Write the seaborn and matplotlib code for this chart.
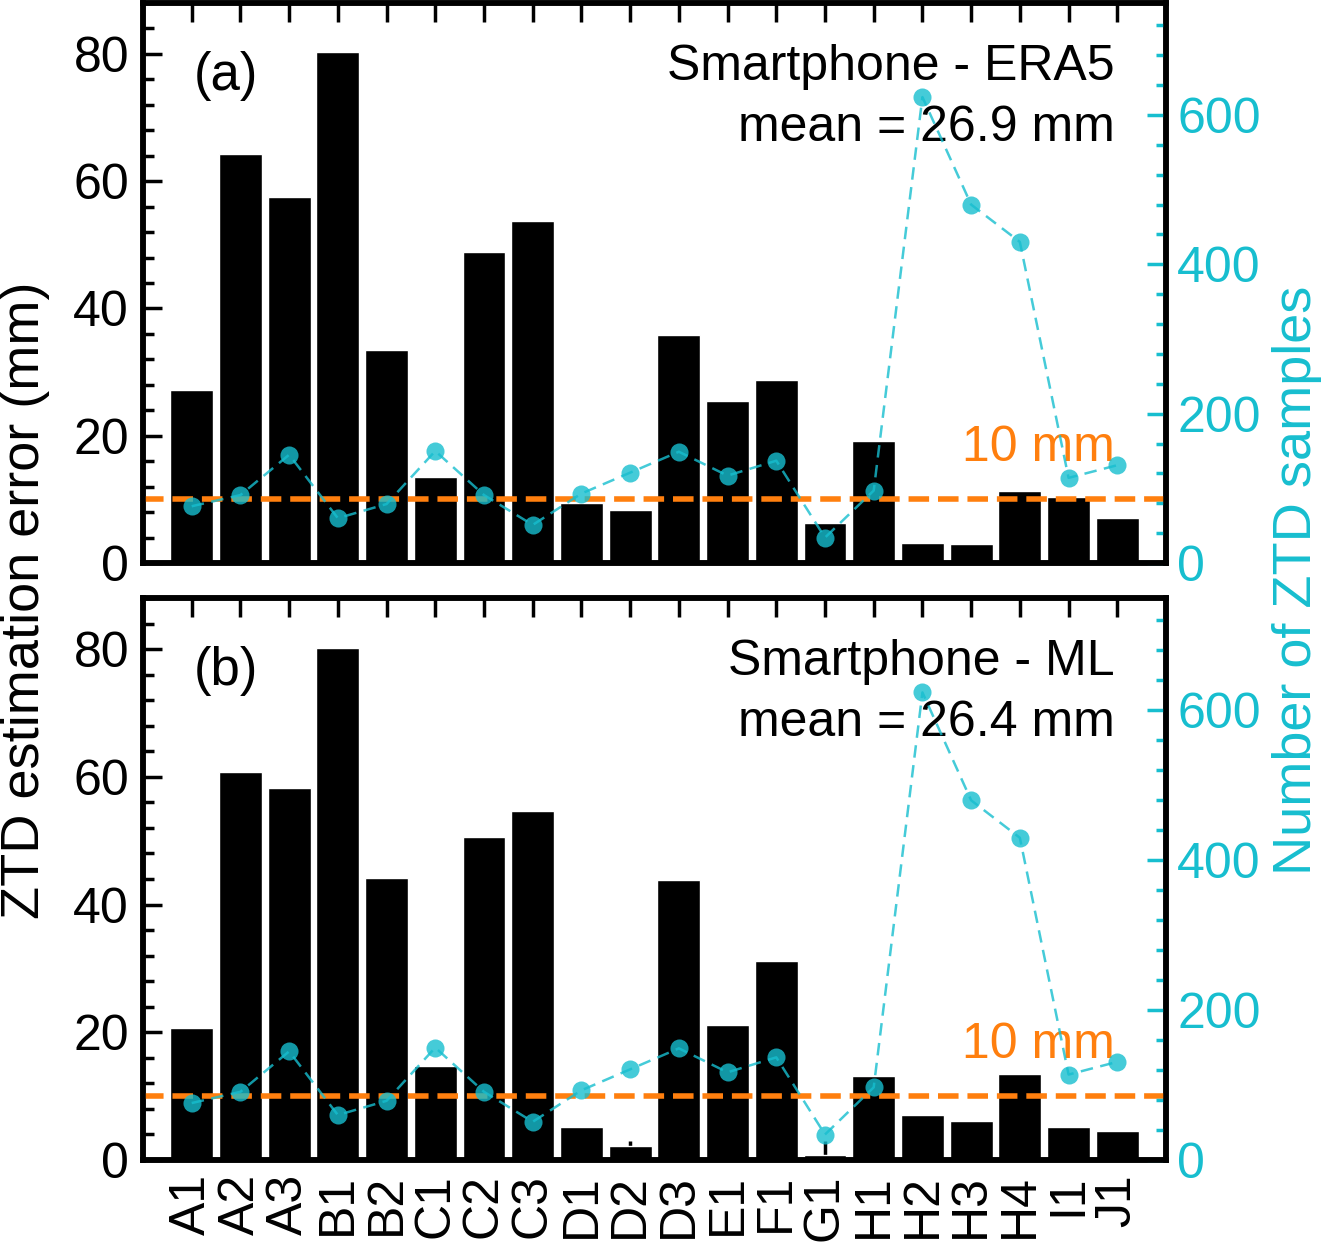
import numpy as np
import pandas as pd
import matplotlib
matplotlib.use("Agg")
import matplotlib.pyplot as plt
import matplotlib.transforms as mtransforms
from matplotlib.ticker import MultipleLocator
import seaborn as sns

# station names (x axis)
stations = ["A1", "A2", "A3", "B1", "B2", "C1", "C2", "C3", "D1", "D2",
            "D3", "E1", "F1", "G1", "H1", "H2", "H3", "H4", "I1", "J1"]

# ZTD estimation error (mm), panel (a): smartphone - ERA5
err_era5 = [27.2, 64.3, 57.5, 80.3, 33.5, 13.5, 48.8, 53.7, 9.4, 8.3,
            35.9, 25.4, 28.8, 6.3, 19.2, 3.1, 3.0, 11.3, 10.4, 7.1]
# ZTD estimation error (mm), panel (b): smartphone - ML
err_ml = [20.7, 60.7, 58.2, 80.2, 44.2, 14.7, 50.6, 54.6, 5.1, 2.2,
          43.9, 21.2, 31.1, 0.8, 13.2, 7.1, 6.1, 13.4, 5.2, 4.6]
# number of ZTD samples per station (right axis)
n_samples = [76, 91, 145, 60, 79, 150, 91, 51, 93, 121,
             149, 117, 137, 34, 97, 624, 480, 430, 114, 131]

panel_tags = ["(a)", "(b)"]
panel_titles = ["Smartphone - ERA5\nmean = 26.9 mm", "Smartphone - ML\nmean = 26.4 mm"]
threshold = 10

CYAN = "#17becf"
ORANGE = "#ff7f0e"

sns.set_style("ticks")
plt.rcParams["font.family"] = ["Liberation Sans", "DejaVu Sans"]
plt.rcParams["text.color"] = "black"
plt.rcParams["axes.labelcolor"] = "black"
plt.rcParams["xtick.color"] = "black"
plt.rcParams["ytick.color"] = "black"

W, H = 1328, 1243
fig = plt.figure(figsize=(W / 100, H / 100), dpi=100)

left, right = 143 / W, 1166 / W
boxes = [(3, 563), (598, 1160)]
TICK_FS = 36

for i, (err, tag, title) in enumerate(zip([err_era5, err_ml], panel_tags, panel_titles)):
    top_px, bot_px = boxes[i]
    ax = fig.add_axes([left, 1 - bot_px / H, right - left, (bot_px - top_px) / H])
    df = pd.DataFrame({"station": stations, "err": err, "n": n_samples, "pos": np.arange(len(stations))})

    sns.barplot(data=df, x="station", y="err", color="black", saturation=1,
                width=0.88, ax=ax, zorder=2)
    ax.axhline(threshold, color=ORANGE, lw=4, ls="--", zorder=3)
    ax.set_xlim(-1, len(stations))
    ax.set_ylim(0, 88)
    ax.set_xlabel("")
    ax.set_ylabel("")

    trans = mtransforms.blended_transform_factory(ax.transAxes, ax.transData)
    ax.text(0.95, 16, f"{threshold} mm", color=ORANGE, fontsize=36,
            ha="right", va="baseline", transform=trans)
    ax.text(0.05, 0.87, tag, fontsize=38, ha="left", va="center", transform=ax.transAxes)
    ax.text(0.95, 0.927, title, fontsize=36, ha="right", va="top",
            linespacing=1.42, transform=ax.transAxes)

    ax.yaxis.set_major_locator(MultipleLocator(20))
    ax.yaxis.set_minor_locator(MultipleLocator(4))
    ax.tick_params(axis="both", which="both", direction="in", top=True, right=False,
                   labelsize=TICK_FS, width=2.5)
    ax.tick_params(axis="both", which="major", length=13.5)
    ax.tick_params(axis="y", which="minor", length=8)
    ax.tick_params(axis="y", pad=10)
    ax.tick_params(axis="x", pad=10)
    ax.tick_params(axis="x", which="minor", bottom=False, top=False)
    if i == 0:
        ax.tick_params(axis="x", labelbottom=False)
    else:
        plt.setp(ax.get_xticklabels(), rotation=90)

    ax2 = ax.twinx()
    sns.lineplot(data=df, x="pos", y="n", ax=ax2, color=CYAN, lw=1.8,
                 marker="o", markersize=13, markeredgewidth=0, alpha=0.8,
                 dashes=False)
    ax2.lines[0].set_linestyle((0, (5, 3)))
    ax2.set_ylim(0, 750)
    ax2.set_xlim(-1, len(stations))
    ax2.set_ylabel("")
    ax2.yaxis.set_major_locator(MultipleLocator(200))
    ax2.yaxis.set_minor_locator(MultipleLocator(40))
    ax2.tick_params(axis="y", which="both", direction="in", color=CYAN,
                    labelcolor=CYAN, labelsize=TICK_FS, width=2.5, pad=8)
    ax2.tick_params(axis="y", which="major", length=13.5)
    ax2.tick_params(axis="y", which="minor", length=7)

    for a in (ax, ax2):
        for sp in a.spines.values():
            sp.set_linewidth(4)
            sp.set_color("black")
            sp.set_visible(True)

fig.text(0.019, 1 - 600 / H, "ZTD estimation error (mm)", rotation=90,
         fontsize=39, ha="center", va="center")
fig.text(0.977, 1 - 580 / H, "Number of ZTD samples", rotation=90,
         fontsize=39, ha="center", va="center", color=CYAN)

fig.savefig("out.png", dpi=100)
